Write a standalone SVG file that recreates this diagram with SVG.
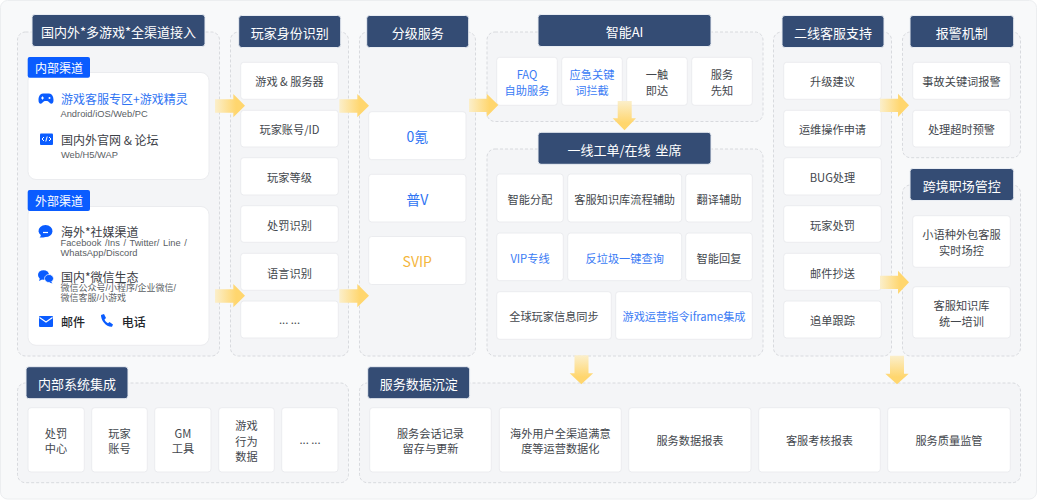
<svg xmlns="http://www.w3.org/2000/svg" width="1038" height="500" viewBox="0 0 1038 500">
<style>
text{font-family:"Noto Sans CJK SC","Noto Sans",sans-serif;text-anchor:middle;dominant-baseline:central}
.bg{fill:#f8f9fa;stroke:#eceef0}
.panel{fill:#f4f5f7;stroke:#d8dade;stroke-dasharray:3 2}
.head{fill:#344c74;stroke:#e9edf3}
.ht{fill:#fff;font-size:13px}
.card{fill:#fff;stroke:#ebecef;stroke-width:1}
.t{fill:#43474d;font-size:11.200px}
.b{fill:#3a7bf5;font-size:11.200px}
.tier{fill:#2f74f3;font-size:14px}
.tag{fill:#0a5cff}
.tagt{fill:#fff;font-size:12px}
.l{text-anchor:start;font-size:12px;fill:#3c4046}
.lb{fill:#2f74f3}
.s{font-size:9px;fill:#5a5e64}
.lat{font-family:"Liberation Sans","Noto Sans CJK SC",sans-serif;font-size:9.300px}
.cjk{font-family:"Liberation Sans","Noto Sans CJK SC",sans-serif;font-size:9px}
.m{text-anchor:start;font-size:12px;fill:#23262b;font-weight:500}
.ic{fill:#0a5cff}
.ar{fill:url(#gh)}
.ad{fill:url(#gv)}
</style>
<defs>
<linearGradient id="gh"><stop offset="0" stop-color="#fbefcb"/><stop offset="0.7" stop-color="#ffd66e"/></linearGradient>
<linearGradient id="gv" x2="0" y2="1"><stop offset="0" stop-color="#fbefcb"/><stop offset="0.75" stop-color="#ffd66e"/></linearGradient>
</defs>
<rect class="bg" x="0.500" y="0.500" width="1036" height="498.500" rx="7"/>

<g id="access">
<rect class="panel" x="17.500" y="32" width="202" height="324" rx="8"/>
<rect class="head" x="32" y="14.500" width="173" height="32" rx="3"/>
<text class="ht" x="118.500" y="31">国内外*多游戏*全渠道接入</text>
<rect class="card" x="28" y="72.500" width="181" height="107" rx="8"/>
<rect class="tag" x="27.700" y="57" width="62.300" height="20.700" rx="2"/>
<text class="tagt" x="59" y="67.500">内部渠道</text>
<path class="ic" d="M42 93.500h7c3 0 4.500 3 4.500 6.500 0 2.500-.8 3.700-2.200 3.700-1.800 0-2.600-2.700-4-2.700h-2.600c-1.400 0-2.200 2.700-4 2.700-1.400 0-2.200-1.200-2.200-3.700 0-3.500 1.500-6.500 4.500-6.500z"/>
<path d="M41 98h3M42.500 96.500v3" stroke="#fff" stroke-width="1"/><circle cx="49.500" cy="98" r="1" fill="#fff"/>
<text class="l"><tspan class="lb" x="61" y="98">游戏客服专区+游戏精灵</tspan><tspan class="s lat" x="60.500" y="113.700">Android/iOS/Web/PC</tspan></text>
<rect class="ic" x="40" y="133.500" width="13" height="11.500" rx="1"/>
<path d="M44 137l-2 2 2 2M49 137l2 2-2 2M47.200 136.500l-1.400 5" fill="none" stroke="#fff" stroke-width="1"/>
<text class="l"><tspan x="61" y="139.300">国内外官网 &amp; 论坛</tspan><tspan class="s lat" x="61" y="155">Web/H5/WAP</tspan></text>

<rect class="card" x="28" y="206.500" width="181" height="138.800" rx="8"/>
<rect class="tag" x="27.700" y="190" width="62.300" height="21" rx="2"/>
<text class="tagt" x="59" y="200.500">外部渠道</text>
<path class="ic" d="M45.500 225a7.200 6 0 0 1 7 6.500 7 6 0 0 1-7 5.500c-2 .5-4 .8-6 .5 1-.7 1.300-1.500 1.300-2.500a6.500 6 0 0 1-2.300-3.500 7.200 6 0 0 1 7-6.500z"/>
<path d="M43 232.500h5" stroke="#fff" stroke-width="1.200"/>
<text class="l"><tspan x="61" y="231.300">海外*社媒渠道</tspan><tspan class="s lat" x="60.500" y="243.300" word-spacing="1">Facebook /Ins / Twitter/ Line /</tspan><tspan class="s lat" x="60.500" y="253">WhatsApp/Discord</tspan></text>
<ellipse class="ic" cx="43.500" cy="275" rx="5.500" ry="4.800"/>
<ellipse class="ic" cx="49" cy="278.500" rx="4.500" ry="4" stroke="#fff" stroke-width=".7"/>
<path class="ic" d="M40 278l-1 3 3-1.500zM51 281.500l1.500 2-3-1z"/>
<text class="l"><tspan x="61" y="276">国内*微信生态</tspan><tspan class="s cjk" x="60.500" y="288.300">微信公众号/小程序/企业微信/</tspan><tspan class="s cjk" x="60.500" y="298">微信客服/小游戏</tspan></text>
<rect class="ic" x="39" y="316" width="14" height="11" rx="1"/>
<path d="M39.500 317.500l6.500 4.500 6.500-4.500" fill="none" stroke="#fff" stroke-width="1.100"/>
<text class="m" x="61" y="321.300">邮件</text>
<path class="ic" d="M101 315l3-1 2 4-1.500 1.500c.7 1.800 2 3 3.500 3.800l1.500-1.200 3.500 2.500-1 2.200c-5.500.5-11.500-6-11-12.800z"/>
<text class="m" x="121.700" y="321.300">电话</text>
</g>

<g id="identity">
<rect class="panel" x="230.500" y="32" width="118" height="324" rx="8"/>
<rect class="head" x="238.700" y="15.500" width="102" height="32" rx="3"/>
<text class="ht" x="289.700" y="32">玩家身份识别</text>
<rect class="card" x="240.700" y="62.300" width="97.600" height="37" rx="3"/><text class="t" x="289.500" y="81">游戏 &amp; 服务器</text>
<rect class="card" x="240.700" y="110.300" width="97.600" height="36.700" rx="3"/><text class="t" x="289.500" y="129">玩家账号/ID</text>
<rect class="card" x="240.700" y="157.700" width="97.600" height="37.300" rx="3"/><text class="t" x="289.500" y="177">玩家等级</text>
<rect class="card" x="240.700" y="205.700" width="97.600" height="36.600" rx="3"/><text class="t" x="289.500" y="224.500">处罚识别</text>
<rect class="card" x="240.700" y="253.300" width="97.600" height="37" rx="3"/><text class="t" x="289.500" y="272.500">语言识别</text>
<rect class="card" x="240.700" y="301" width="97.600" height="37" rx="3"/><text class="t" x="289.500" y="319">... ...</text>
</g>

<g id="tiers">
<rect class="panel" x="359.500" y="32" width="116" height="324" rx="8"/>
<rect class="head" x="366.700" y="15.500" width="102" height="32" rx="3"/>
<text class="ht" x="417.700" y="32">分级服务</text>
<rect class="card" x="368.700" y="111.700" width="97.300" height="48" rx="3"/><text class="tier" x="417.300" y="136">0氪</text>
<rect class="card" x="368.700" y="174.300" width="97.300" height="47.700" rx="3"/><text class="tier" x="417.300" y="198.500">普V</text>
<rect class="card" x="368.700" y="236.500" width="97.300" height="48" rx="3"/><text class="tier" x="417.300" y="260.500" style="fill:#f4b63c">SVIP</text>
</g>

<g id="ai">
<rect class="panel" x="487" y="32" width="276" height="89.500" rx="8"/>
<rect class="head" x="538" y="14.500" width="173" height="32" rx="3"/>
<text class="ht" x="624.500" y="31">智能AI</text>
<rect class="card" x="496.700" y="57.300" width="60.600" height="48" rx="3"/><text class="b" x="527" y="74">FAQ</text><text class="b" x="527" y="89.500">自助服务</text>
<rect class="card" x="561.700" y="57.300" width="60.600" height="48" rx="3"/><text class="b" x="592" y="74">应急关键</text><text class="b" x="592" y="89.500">词拦截</text>
<rect class="card" x="626.700" y="57.300" width="60.600" height="48" rx="3"/><text class="t" x="657" y="74">一触</text><text class="t" x="657" y="89.500">即达</text>
<rect class="card" x="691.700" y="57.300" width="60.600" height="48" rx="3"/><text class="t" x="722" y="74">服务</text><text class="t" x="722" y="89.500">先知</text>
</g>

<g id="frontline">
<rect class="panel" x="487" y="149" width="276" height="207" rx="8"/>
<rect class="head" x="538" y="132.300" width="173" height="32" rx="3"/>
<text class="ht" x="624.500" y="149" word-spacing="2">一线工单/在线 坐席</text>
<rect class="card" x="496.700" y="174" width="66.600" height="48" rx="3"/><text class="t" x="530" y="198.500">智能分配</text>
<rect class="card" x="567.700" y="174" width="114" height="48" rx="3"/><text class="t" x="624.700" y="198.500">客服知识库流程辅助</text>
<rect class="card" x="685.700" y="174" width="66.600" height="48" rx="3"/><text class="t" x="719" y="198.500">翻译辅助</text>
<rect class="card" x="496.700" y="233" width="66.600" height="47.700" rx="3"/><text class="b" x="530" y="257.500">VIP专线</text>
<rect class="card" x="567.700" y="233" width="114" height="47.700" rx="3"/><text class="b" x="624.700" y="257.500">反垃圾一键查询</text>
<rect class="card" x="685.700" y="233" width="66.600" height="47.700" rx="3"/><text class="t" x="719" y="257.500">智能回复</text>
<rect class="card" x="496.700" y="291.700" width="114.600" height="47.600" rx="3"/><text class="t" x="554" y="316">全球玩家信息同步</text>
<rect class="card" x="615.700" y="291.700" width="136.600" height="47.600" rx="3"/><text class="b" x="684" y="316">游戏运营指令iframe集成</text>
</g>

<g id="second-line">
<rect class="panel" x="773.500" y="32" width="118" height="324" rx="8"/>
<rect class="head" x="782" y="15.500" width="102" height="32" rx="3"/>
<text class="ht" x="833" y="32">二线客服支持</text>
<rect class="card" x="783.700" y="62.300" width="97.600" height="37" rx="3"/><text class="t" x="832.500" y="81">升级建议</text>
<rect class="card" x="783.700" y="110.300" width="97.600" height="36.700" rx="3"/><text class="t" x="832.500" y="129">运维操作申请</text>
<rect class="card" x="783.700" y="157.700" width="97.600" height="37.300" rx="3"/><text class="t" x="832.500" y="177">BUG处理</text>
<rect class="card" x="783.700" y="205.700" width="97.600" height="36.600" rx="3"/><text class="t" x="832.500" y="224.500">玩家处罚</text>
<rect class="card" x="783.700" y="253.300" width="97.600" height="37" rx="3"/><text class="t" x="832.500" y="272.500">邮件抄送</text>
<rect class="card" x="783.700" y="301" width="97.600" height="37" rx="3"/><text class="t" x="832.500" y="319.500">追单跟踪</text>
</g>

<g id="alarm">
<rect class="panel" x="902.500" y="32" width="118" height="125.700" rx="8"/>
<rect class="head" x="910" y="15.500" width="103.700" height="32" rx="3"/>
<text class="ht" x="961.800" y="32">报警机制</text>
<rect class="card" x="912.700" y="62.300" width="97.600" height="37" rx="3"/><text class="t" x="961.500" y="81">事故关键词报警</text>
<rect class="card" x="912.700" y="110.300" width="97.600" height="36.700" rx="3"/><text class="t" x="961.500" y="129">处理超时预警</text>
</g>

<g id="cross-border">
<rect class="panel" x="902.500" y="185" width="118" height="171" rx="8"/>
<rect class="head" x="910" y="168.500" width="103.700" height="32" rx="3"/>
<text class="ht" x="961.800" y="185">跨境职场管控</text>
<rect class="card" x="912.700" y="215.700" width="97.600" height="51.600" rx="3"/><text class="t" x="961.500" y="234">小语种外包客服</text><text class="t" x="961.500" y="249.500">实时场控</text>
<rect class="card" x="912.700" y="286.700" width="97.600" height="51.300" rx="3"/><text class="t" x="961.500" y="305">客服知识库</text><text class="t" x="961.500" y="320.500">统一培训</text>
</g>

<g id="internal-systems">
<rect class="panel" x="17.500" y="383" width="331" height="99.700" rx="8"/>
<rect class="head" x="26" y="366.700" width="102" height="32" rx="3"/>
<text class="ht" x="77" y="383">内部系统集成</text>
<rect class="card" x="28" y="407.700" width="56.300" height="64.300" rx="3"/><text class="t" x="56" y="433">处罚</text><text class="t" x="56" y="448">中心</text>
<rect class="card" x="91.700" y="407.700" width="55.600" height="64.300" rx="3"/><text class="t" x="119.500" y="433">玩家</text><text class="t" x="119.500" y="448">账号</text>
<rect class="card" x="154.700" y="407.700" width="56.300" height="64.300" rx="3"/><text class="t" x="183" y="433">GM</text><text class="t" x="183" y="448">工具</text>
<rect class="card" x="218.700" y="407.700" width="55.600" height="64.300" rx="3"/><text class="t" x="246.500" y="425">游戏</text><text class="t" x="246.500" y="440.500">行为</text><text class="t" x="246.500" y="456">数据</text>
<rect class="card" x="281.700" y="407.700" width="56.300" height="64.300" rx="3"/><text class="t" x="310" y="439">... ...</text>
</g>

<g id="data">
<rect class="panel" x="359.500" y="383" width="661" height="99.700" rx="8"/>
<rect class="head" x="367.700" y="366.700" width="102" height="32" rx="3"/>
<text class="ht" x="418.700" y="383">服务数据沉淀</text>
<rect class="card" x="369.700" y="407.700" width="121.600" height="64.300" rx="3"/><text class="t" x="430.500" y="433">服务会话记录</text><text class="t" x="430.500" y="448">留存与更新</text>
<rect class="card" x="499.300" y="407.700" width="122" height="64.300" rx="3"/><text class="t" x="560.300" y="433">海外用户全渠道满意</text><text class="t" x="560.300" y="448">度等运营数据化</text>
<rect class="card" x="628.700" y="407.700" width="122.300" height="64.300" rx="3"/><text class="t" x="690" y="440">服务数据报表</text>
<rect class="card" x="758.700" y="407.700" width="121.600" height="64.300" rx="3"/><text class="t" x="819.500" y="440">客服考核报表</text>
<rect class="card" x="887.700" y="407.700" width="122.600" height="64.300" rx="3"/><text class="t" x="949" y="439.500">服务质量监管</text>
</g>

<g id="connectors">
<path class="ar" d="M215 99.300h18.300V94L245 105.700 233.300 117.300V112.700H215z"/>
<path class="ar" d="M339.300 99.300h18V94L369 105.700 357.300 117.300V112.700H339.300z"/>
<path class="ar" d="M469 98.700h17.700V93.700L498.300 105 486.700 116.700V112H469z"/>
<path class="ar" d="M215 289.300h18.300V284L245 295.700 233.300 307.300V302.700H215z"/>
<path class="ar" d="M339.300 289.300h18V284L369 295.700 357.300 307.300V302.700H339.300z"/>
<path class="ar" d="M880 98.700h18V93.700L909 105.300 898 117V112H880z"/>
<path class="ar" d="M880 275.700h18V270.700L909 282.300 898 294V289H880z"/>
<path class="ad" d="M617.700 101h14v17.300h4.300L624.500 130.300 612.700 118.300h5z"/>
<path class="ad" d="M574.500 355.300h14v18h4.700L581.300 384.300 569.700 373.300h4.800z"/>
<path class="ad" d="M890 355.700h14v18h4.700L897 384.300 885.300 373.700h4.700z"/>
</g>
</svg>
